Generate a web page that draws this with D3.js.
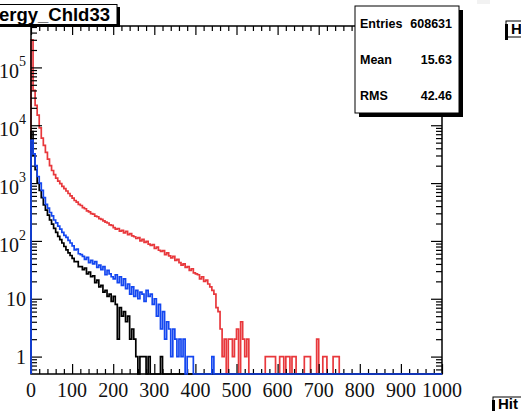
<!DOCTYPE html>
<html>
<head>
<meta charset="utf-8">
<script src="https://cdn.jsdelivr.net/npm/d3@7"></script>
<style>
	body { margin: 0; background: #fff; }
	svg { display: block; }
</style>
</head>
<body>
<div id="chart"></div>
<script>
// bin width 5, bins start at 0
const binWidth = 5;
const nBins = 200;

const red = [
	300000, 40000, 22000, 15000, 9000, 6000, 4500, 3400, 2600, 2000,
	1650, 1400, 1220, 1080, 980, 880, 800, 730, 660, 600,
	550, 500, 470, 430, 410, 375, 360, 330, 318, 296,
	290, 268, 262, 242, 236, 222, 212, 204, 190, 186,
	170, 160, 164, 148, 152, 138, 146, 128, 134, 122,
	118, 110, 114, 100, 106, 94, 98, 88, 84, 86,
	74, 78, 69, 66, 68, 58, 62, 55, 51, 54,
	46, 48, 42, 38, 40, 35, 36, 31, 33, 28,
	27, 26, 22, 24, 20, 21, 18, 16, 14, 12,
	7, 6, 3, 1, 2, 0, 2, 2, 1, 2,
	3, 0, 4, 2, 1, 2, 0, 0, 0, 0,
	0, 0, 0, 0, 1, 1, 1, 1, 1, 0,
	0, 1, 1, 0, 1, 1, 0, 1, 1, 0,
	0, 0, 0, 1, 1, 1, 0, 0, 0, 2,
	0, 0, 1, 1, 0, 0, 0, 1, 1, 1,
];

const blue = [
	5500, 3200, 2000, 1300, 1000, 750, 560, 430, 370, 310,
	270, 230, 205, 180, 160, 140, 125, 115, 102, 92,
	82, 70, 72, 60, 58, 54, 48, 52, 42, 46,
	40, 44, 35, 38, 32, 36, 26, 31, 27, 24,
	22, 26, 19, 24, 17, 22, 15, 18, 12, 16,
	11, 14, 10, 13, 12, 9, 14, 11, 12, 8,
	10, 5, 8, 3, 6, 2, 4, 3, 1, 3,
	2, 1, 2, 1, 2, 0, 1, 1, 1, 0,
	0, 0, 0, 0, 0, 0, 0, 0, 1,
];

const black = [
	7800, 3000, 1700, 1000, 750, 560, 420, 340, 280, 230,
	195, 165, 140, 120, 105, 92, 80, 70, 62, 56,
	50, 44, 44, 36, 36, 32, 34, 27, 29, 24,
	25, 19, 21, 16, 17, 13, 14, 11, 12, 9,
	11, 8, 2, 7, 5, 6, 4, 5, 2, 3,
	2, 1, 0, 1, 1, 1, 0, 1, 0, 0,
	0, 0, 0, 1,
];

const xTicks = [0, 100, 200, 300, 400, 500, 600, 700, 800, 900, 1000];
const yTicks = [1, 10, 1e2, 1e3, 1e4, 1e5];
const yTickExp = ['', '', '2', '3', '4', '5'];

const title = 'HitEnergy_Chld33';
const statNames = ['Entries', 'Mean', 'RMS'];
const statValues = ['608631', '15.63', '42.46'];

class HistChart {
	constructor({ element }) {
		this.element = element;
		this.draw();
	}

	draw() {
		this.width = 521;
		this.height = 411;
		this.margin = { top: 26, right: 79, bottom: 37, left: 31 };
		this.w = this.width - this.margin.left - this.margin.right;
		this.h = this.height - this.margin.top - this.margin.bottom;

		this.svg = d3.select(this.element).append('svg')
			.attr('width', this.width)
			.attr('height', this.height);

		this.svg.append('rect')
			.attr('x', 477).attr('y', 0).attr('width', 13).attr('height', 4)
			.attr('fill', '#f2f2f2');

		this.plot = this.svg.append('g')
			.attr('transform', `translate(${this.margin.left},${this.margin.top})`);

		this.createScales();
		this.addHist(red, '#e8383c');
		this.addAxes();
		this.addHist(black, '#000');
		this.addHist(blue, '#1447f0');
		this.addLabels();
		this.addTitle();
		this.addStats();
		this.addNeighbours();
	}

	createScales() {
		this.yMin = 0.5;
		this.xScale = d3.scaleLinear().domain([0, 1000]).range([0, this.w]);
		this.yScale = d3.scaleLog().domain([this.yMin, 5.2e5]).range([this.h, 0]).clamp(true);
	}

	addHist(values, color) {
		const pts = [[0, this.yMin]];
		d3.range(nBins).forEach((i) => {
			const v = values[i] > 0 ? values[i] : this.yMin;
			pts.push([i * binWidth, v], [(i + 1) * binWidth, v]);
		});
		const line = d3.line()
			.x((d) => this.xScale(d[0]))
			.y((d) => this.yScale(d[1]));

		this.plot.append('path')
			.attr('d', line(pts))
			.attr('fill', 'none')
			.attr('stroke', color)
			.attr('stroke-width', 1.7);
	}

	addAxes() {
		const x = this.xScale;
		const y = this.yScale;
		const xMinor = d3.range(0, 1001, 20).filter((d) => d % 100 !== 0);
		const yMinor = [];
		d3.range(-1, 6).forEach((e) => {
			d3.range(2, 10).forEach((k) => {
				const v = k * Math.pow(10, e);
				if (v > this.yMin && v < 5.2e5) yMinor.push(v);
			});
		});

		const style = (g) => {
			g.select('.domain').remove();
			g.selectAll('line').attr('stroke', '#000').attr('stroke-width', 1.2);
		};

		const axes = [
			[d3.axisTop(x), `translate(0,${this.h})`, xTicks, xMinor, 10, 5],
			[d3.axisBottom(x), 'translate(0,0)', xTicks, xMinor, 9, 5],
			[d3.axisRight(y), 'translate(0,0)', yTicks, yMinor, 11, 6],
			[d3.axisLeft(y), `translate(${this.w},0)`, yTicks, yMinor, 11, 6],
		];

		axes.forEach(([axis, tr, major, minor, big, small]) => {
			this.plot.append('g')
				.attr('transform', tr)
				.call(axis.tickValues(major).tickSize(big).tickFormat(''))
				.call(style);
			this.plot.append('g')
				.attr('transform', tr)
				.call(axis.tickValues(minor).tickSize(small).tickFormat(''))
				.call(style);
		});

		this.plot.append('rect')
			.attr('width', this.w)
			.attr('height', this.h)
			.attr('fill', 'none')
			.attr('stroke', '#000')
			.attr('stroke-width', 1.5);
	}

	addLabels() {
		const font = 'Liberation Serif, Times New Roman, serif';

		this.plot.append('g')
			.selectAll('text')
			.data(xTicks)
			.enter()
			.append('text')
			.attr('x', (d) => this.xScale(d))
			.attr('y', this.h + 23)
			.attr('text-anchor', 'middle')
			.attr('font-family', font)
			.attr('font-size', 20)
			.attr('fill', '#111')
			.text((d) => d);

		const lab = this.plot.append('g')
			.selectAll('text')
			.data(yTicks)
			.enter()
			.append('text')
			.attr('x', -5)
			.attr('y', (d, i) => this.yScale(d) + (yTickExp[i] ? 11 : 7))
			.attr('text-anchor', 'end')
			.attr('font-family', font)
			.attr('font-size', 20)
			.attr('fill', '#111');

		lab.append('tspan').text((d) => (d === 1 ? '1' : '10'));
		lab.filter((d, i) => yTickExp[i])
			.append('tspan')
			.attr('dy', -12)
			.attr('font-size', 14)
			.text((d) => yTickExp[yTicks.indexOf(d)]);
	}

	addTitle() {
		const g = this.svg.append('g');
		g.append('rect')
			.attr('x', -5).attr('y', 7).attr('width', 125).attr('height', 20)
			.attr('fill', '#000');
		g.append('rect')
			.attr('x', -5).attr('y', 4.5).attr('width', 122).attr('height', 20)
			.attr('fill', '#fff')
			.attr('stroke', '#000')
			.attr('stroke-width', 1);
		g.append('text')
			.attr('x', 110).attr('y', 21)
			.attr('text-anchor', 'end')
			.attr('font-family', 'Liberation Sans, Arial, sans-serif')
			.attr('font-weight', 'bold')
			.attr('font-size', 18.5)
			.text(title);
	}

	addStats() {
		const g = this.svg.append('g');
		const bx = 355;
		const by = 6;
		const bw = 104;
		const bh = 107;
		g.append('rect')
			.attr('x', bx + 4).attr('y', by + 4).attr('width', bw).attr('height', bh)
			.attr('fill', '#000');
		g.append('rect')
			.attr('x', bx).attr('y', by).attr('width', bw).attr('height', bh)
			.attr('fill', '#fff')
			.attr('stroke', '#000')
			.attr('stroke-width', 1);

		const rows = g.selectAll('g.row')
			.data(statNames)
			.enter()
			.append('g')
			.attr('class', 'row')
			.attr('font-family', 'Liberation Sans, Arial, sans-serif')
			.attr('font-weight', 'bold')
			.attr('font-size', 12.5);

		rows.append('text')
			.attr('x', bx + 5)
			.attr('y', (d, i) => by + 22 + i * 36)
			.text((d) => d);
		rows.append('text')
			.attr('x', bx + bw - 7)
			.attr('y', (d, i) => by + 22 + i * 36)
			.attr('text-anchor', 'end')
			.text((d, i) => statValues[i]);
	}

	addNeighbours() {
		const boxes = [
			{ x: 506, y: 21, h: 16, label: 'H', ty: 34 },
			{ x: 493, y: 397, h: 20, label: 'Hit', ty: 409 },
		];
		const g = this.svg.append('g');
		boxes.forEach((b) => {
			g.append('rect')
				.attr('x', b.x).attr('y', b.y).attr('width', 40).attr('height', b.h)
				.attr('fill', '#fff')
				.attr('stroke', '#000');
			g.append('rect')
				.attr('x', b.x - 1).attr('y', b.y + 3).attr('width', 3).attr('height', b.h)
				.attr('fill', '#000');
			g.append('text')
				.attr('x', b.x + 5).attr('y', b.ty)
				.attr('font-family', 'Liberation Sans, Arial, sans-serif')
				.attr('font-weight', 'bold')
				.attr('font-size', 15)
				.text(b.label);
		});
	}
}

new HistChart({ element: document.getElementById('chart') });
</script>
</body>
</html>
